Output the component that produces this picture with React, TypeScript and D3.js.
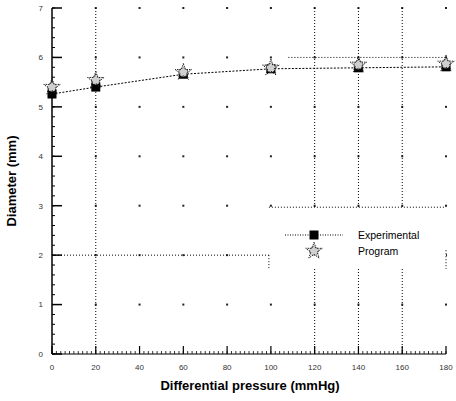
import React from "react";
import * as d3 from "d3";

// Differential pressure (mmHg) at which diameter was measured
const pressures = [0, 20, 60, 100, 140, 180];
// Measured diameter (mm)
const experimental = [5.26, 5.4, 5.66, 5.77, 5.79, 5.81];
// Diameter predicted by the program (mm)
const program = [5.4, 5.54, 5.7, 5.79, 5.85, 5.87];

const xTicks = [0, 20, 40, 60, 80, 100, 120, 140, 160, 180];
const yTicks = [0, 1, 2, 3, 4, 5, 6, 7];
const seriesNames = ["Experimental", "Program"];

const W = 456;
const H = 401;

export default function App() {
  const x = d3.scaleLinear().domain([0, 180]).range([52, 446]);
  const y = d3.scaleLinear().domain([0, 7]).range([354, 8]);

  const line = d3
    .line<number>()
    .x((_, i) => x(pressures[i]))
    .y((d) => y(d));

  const starPath = d3.symbol(d3.symbolStar, 85)() as string;
  const sqSize = 9;

  const yMinor = d3.range(0, 7.0001, 0.2);
  const xMinor = d3.range(0, 180.0001, 2);

  const dotted = { stroke: "#000", strokeWidth: 1, strokeDasharray: "1 2", fill: "none" };

  const vGrid = [20, 120, 140, 160];
  const legX0 = 100;
  const legTop = 2.97;
  const legBottom = 1.72;

  const font = "'Liberation Sans', Arial, sans-serif";

  const ProgramMarker = ({ cx, cy }: { cx: number; cy: number }) => (
    <g transform={`translate(${cx}, ${cy})`}>
      <circle r={4.5} fill="#d0d0d0" stroke="#333" strokeWidth={0.8} strokeDasharray="1 1" />
      <path d={starPath} fill="none" stroke="#222" strokeWidth={1} strokeDasharray="1.5 1" />
    </g>
  );

  return (
    <svg
      width={W}
      height={H}
      style={{ position: "absolute", left: 0, top: 0, background: "#fff" }}
      fontFamily={font}
    >
      {/* grid intersections */}
      {xTicks.slice(1).map((t) =>
        yTicks.slice(1).map((v) => (
          <rect key={`i${t}-${v}`} x={x(t) - 1} y={y(v) - 1} width={2} height={2} fill="#222" />
        ))
      )}

      {/* visible grid lines */}
      {vGrid.map((t) => (
        <line key={`vg${t}`} x1={x(t)} x2={x(t)} y1={y(7)} y2={y(0)} {...dotted} />
      ))}
      <line x1={x(108)} x2={x(180)} y1={y(6)} y2={y(6)} {...dotted} />
      <line x1={x(0)} x2={x(legX0)} y1={y(2)} y2={y(2)} {...dotted} />

      {/* legend box */}
      <rect
        x={x(legX0) - 2}
        y={y(legTop)}
        width={x(180) - x(legX0) + 2}
        height={y(legBottom) - y(legTop)}
        fill="#fff"
      />
      <line x1={x(legX0) - 2} x2={x(180)} y1={y(legTop)} y2={y(legTop)} {...dotted} />
      <line x1={x(legX0) - 2} x2={x(legX0) - 2} y1={y(2)} y2={y(legBottom)} {...dotted} />
      <line x1={x(180)} x2={x(180)} y1={y(2.1)} y2={y(legBottom)} {...dotted} />

      {/* axes */}
      <line x1={x(0)} x2={x(0)} y1={y(7)} y2={y(0)} stroke="#000" strokeWidth={1.5} />
      <line x1={x(0)} x2={x(180)} y1={y(0)} y2={y(0)} stroke="#000" strokeWidth={1} />
      {yMinor.map((v, i) => (
        <line key={`ym${i}`} x1={x(0)} x2={x(0) + 3} y1={y(v)} y2={y(v)} stroke="#000" />
      ))}
      {yTicks.map((v) => (
        <g key={`yt${v}`}>
          <line x1={x(0)} x2={x(0) + 10} y1={y(v)} y2={y(v)} stroke="#000" strokeWidth={1.5} />
          <text x={x(0) - 9} y={y(v)} dy="0.35em" textAnchor="end" fontSize={8} fill="#333">
            {v}
          </text>
        </g>
      ))}
      {xMinor.map((t, i) => (
        <line key={`xm${i}`} x1={x(t)} x2={x(t)} y1={y(0)} y2={y(0) - 3} stroke="#000" strokeWidth={0.8} />
      ))}
      {xTicks.map((t) => (
        <g key={`xt${t}`}>
          <line x1={x(t)} x2={x(t)} y1={y(0)} y2={y(0) - 8} stroke="#000" strokeWidth={1.2} />
          <text x={x(t)} y={y(0) + 16} textAnchor="middle" fontSize={8} fill="#333">
            {t}
          </text>
        </g>
      ))}

      {/* axis titles */}
      <text x={250} y={390} textAnchor="middle" fontSize={13} fontWeight="bold" fill="#000">
        Differential pressure (mmHg)
      </text>
      <text
        transform={`translate(16, ${y(3.5)}) rotate(-90)`}
        textAnchor="middle"
        fontSize={13}
        fontWeight="bold"
        fill="#000"
      >
        Diameter (mm)
      </text>

      {/* experimental series line */}
      <path d={line(experimental) as string} fill="none" stroke="#000" strokeWidth={1} strokeDasharray="2 1.5" />

      {/* experimental markers */}
      {experimental.map((v, i) => (
        <rect
          key={`e${i}`}
          x={x(pressures[i]) - sqSize / 2}
          y={y(v) - sqSize / 2}
          width={sqSize}
          height={sqSize}
          fill="#000"
        />
      ))}

      {/* program markers */}
      {program.map((v, i) => (
        <ProgramMarker key={`p${i}`} cx={x(pressures[i])} cy={y(v)} />
      ))}

      {/* legend */}
      <g>
        <line x1={285} x2={343} y1={235} y2={235} stroke="#000" strokeDasharray="1 1.5" />
        <rect x={314 - sqSize / 2} y={235 - sqSize / 2} width={sqSize} height={sqSize} fill="#000" />
        <text x={358} y={235} dy="0.35em" fontSize={10.5} fill="#000">
          {seriesNames[0]}
        </text>
        <ProgramMarker cx={314} cy={251} />
        <text x={358} y={251} dy="0.35em" fontSize={10.5} fill="#000">
          {seriesNames[1]}
        </text>
      </g>
    </svg>
  );
}
